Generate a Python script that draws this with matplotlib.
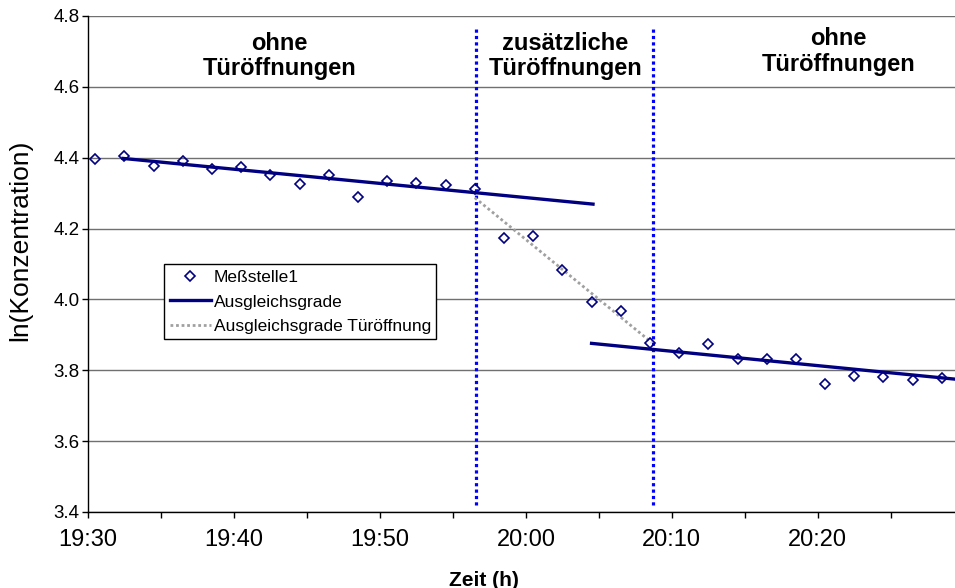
import numpy as np
import matplotlib
matplotlib.use("Agg")
import matplotlib.pyplot as plt
from matplotlib.ticker import MultipleLocator, FixedLocator

plt.rcParams['font.family'] = ['Liberation Sans', 'DejaVu Sans']

# measured points, time in minutes after 19:30
t_min = [0.5, 2.5, 4.5, 6.5, 8.5, 10.5, 12.5, 14.5, 16.5, 18.5,
         20.5, 22.5, 24.5, 26.5, 28.5, 30.5, 32.5, 34.5, 36.5, 38.5,
         40.5, 42.5, 44.5, 46.5, 48.5, 50.5, 52.5, 54.5, 56.5, 58.5]
ln_conc = [4.397, 4.406, 4.377, 4.391, 4.368, 4.375, 4.351, 4.327, 4.352, 4.288,
           4.334, 4.328, 4.324, 4.312, 4.172, 4.178, 4.082, 3.994, 3.967, 3.876,
           3.850, 3.873, 3.831, 3.831, 3.831, 3.761, 3.784, 3.781, 3.773, 3.779]

# regression lines (end points)
fit1_t = [2.4, 34.6]
fit1_v = [4.398, 4.269]
fit2_t = [34.5, 59.4]
fit2_v = [3.876, 3.775]
door_t = [26.5, 38.6]
door_v = [4.287, 3.879]

# phase boundaries
bound_t = [26.6, 38.7]
bound_v = [3.42, 4.77]

xtick_min = [0, 10, 20, 30, 40, 50]
xtick_lab = ["19:30", "19:40", "19:50", "20:00", "20:10", "20:20"]
ytick_val = [3.4, 3.6, 3.8, 4.0, 4.2, 4.4, 4.6, 4.8]

phase_t = [13.1, 32.7, 51.4]
phase_v = [4.687, 4.687, 4.70]
phase_txt = ["ohne\nTüröffnungen", "zusätzliche\nTüröffnungen", "ohne\nTüröffnungen"]

navy = "#000080"

fig = plt.figure(figsize=(9.55, 5.88), dpi=100)
ax = fig.add_axes([88 / 955, 76 / 588, 867 / 955, 496 / 588])

ax.xaxis.set_major_locator(FixedLocator(xtick_min))
ax.xaxis.set_minor_locator(MultipleLocator(5))
ax.set_xticklabels(xtick_lab)
ax.set_yticks(ytick_val)
ax.set_yticklabels([f"{v:.1f}" for v in ytick_val])
ax.set_xlim(0, 59.4)
ax.set_ylim(3.4, 4.8)

ax.grid(True, axis='y', color='#707070', linewidth=1.0)
ax.set_axisbelow(True)
for s in ['top', 'right']:
    ax.spines[s].set_visible(False)
for s in ['left', 'bottom']:
    ax.spines[s].set_linewidth(1.0)

ax.tick_params(axis='x', which='both', direction='out', length=4, width=1,
               labelsize=17, pad=8)
ax.tick_params(axis='y', direction='out', length=4, width=1, labelsize=13.5, pad=2)

for t in bound_t:
    ax.plot([t, t], bound_v, color='#0000ff', linewidth=2.3,
            linestyle=(0, (1, 1)), zorder=2)

ax.plot(door_t, door_v, color='#a0a0a0', linewidth=2, linestyle=(0, (1, 1)),
        label='Ausgleichsgrade Türöffnung', zorder=3)
ax.plot(fit1_t, fit1_v, color=navy, linewidth=2.4, label='Ausgleichsgrade', zorder=3)
ax.plot(fit2_t, fit2_v, color=navy, linewidth=2.4, zorder=3)
ax.plot(t_min, ln_conc, linestyle='none', marker='D', markersize=5.2,
        markerfacecolor='none', markeredgecolor=navy, markeredgewidth=1.2,
        label='Meßstelle1', zorder=4)

for t, v, txt in zip(phase_t, phase_v, phase_txt):
    ax.text(t, v, txt, ha='center', va='center', fontsize=17,
            fontweight='bold', linespacing=1.15)

ax.set_xlabel("Zeit (h)", fontsize=15, fontweight='bold')
ax.xaxis.set_label_coords(0.457, -0.118)
ax.set_ylabel("ln(Konzentration)", fontsize=19)
ax.yaxis.set_label_coords(-0.064, 0.548)

handles, labels = ax.get_legend_handles_labels()
order = [2, 1, 0]
leg = ax.legend([handles[i] for i in order], [labels[i] for i in order],
                loc='upper left', bbox_to_anchor=(0.088, 0.499),
                fontsize=12.5, frameon=True, fancybox=False, framealpha=1,
                edgecolor='black', handlelength=2.4, handletextpad=0.15,
                borderpad=0.3, labelspacing=0.55, borderaxespad=0)
leg.get_frame().set_linewidth(1.0)

fig.savefig("out.png", dpi=100)
